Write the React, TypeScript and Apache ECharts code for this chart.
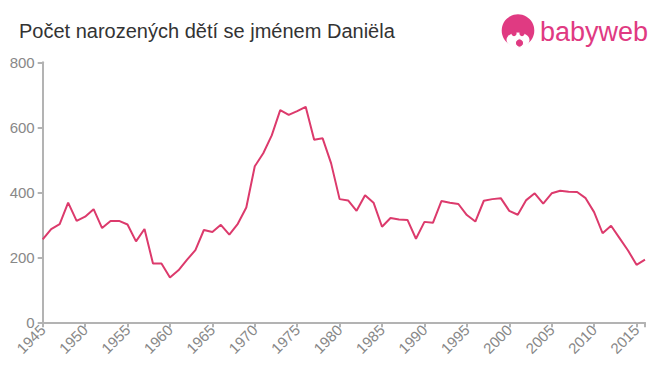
import React, { useEffect, useRef } from "react";
import * as echarts from "echarts";

const years: number[] = [
  1945, 1946, 1947, 1948, 1949, 1950, 1951, 1952, 1953, 1954, 1955, 1956, 1957, 1958, 1959,
  1960, 1961, 1962, 1963, 1964, 1965, 1966, 1967, 1968, 1969, 1970, 1971, 1972, 1973, 1974,
  1975, 1976, 1977, 1978, 1979, 1980, 1981, 1982, 1983, 1984, 1985, 1986, 1987, 1988, 1989,
  1990, 1991, 1992, 1993, 1994, 1995, 1996, 1997, 1998, 1999, 2000, 2001, 2002, 2003, 2004,
  2005, 2006, 2007, 2008, 2009, 2010, 2011, 2012, 2013, 2014, 2015, 2016,
];

const counts: number[] = [
  255, 287, 302, 368, 312, 325, 348, 290, 312, 312, 301, 249, 287, 181, 181,
  138, 160, 192, 222, 284, 278, 300, 270, 303, 353, 480, 520, 575, 653, 638,
  650, 663, 562, 566, 489, 379, 375, 343, 391, 368, 294, 321, 316, 315, 257,
  309, 306, 373, 368, 364, 330, 310, 374, 379, 382, 343, 331, 376, 397, 365,
  397, 405, 402, 401, 382, 339, 274, 297, 259, 221, 177, 193,
];

const yTicks: number[] = [0, 200, 400, 600, 800];

const title = "Počet narozených dětí se jménem Daniëla";

export default function App() {
  const ref = useRef<HTMLDivElement>(null);

  useEffect(() => {
    if (!ref.current) return;
    const chart = echarts.init(ref.current, undefined, { renderer: "svg" });
    const pink = "#e03a82";
    const font = "Liberation Sans, Arial, sans-serif";
    chart.setOption({
      animation: false,
      backgroundColor: "#ffffff",
      grid: { left: 42.7, right: 15, top: 62.3, bottom: 52.7, containLabel: false },
      xAxis: {
        type: "value",
        min: 1945,
        max: 2016,
        interval: 5,
        axisLine: { show: true, lineStyle: { color: "#b3b3b3", width: 2 } },
        axisTick: { show: true, length: 5, lineStyle: { color: "#b3b3b3", width: 2 } },
        axisLabel: {
          rotate: 45,
          color: "#888888",
          fontSize: 15,
          fontFamily: font,
          margin: 5,
          formatter: (v: number) => (v % 5 === 0 ? String(v) : ""),
        },
        splitLine: { show: false },
      },
      yAxis: {
        type: "value",
        min: yTicks[0],
        max: yTicks[yTicks.length - 1],
        interval: 200,
        axisLine: { show: true, lineStyle: { color: "#b3b3b3", width: 2 } },
        axisTick: { show: true, length: 5, lineStyle: { color: "#b3b3b3", width: 2 } },
        axisLabel: {
          color: "#888888",
          fontSize: 15,
          fontFamily: font,
          margin: 8,
        },
        splitLine: { show: false },
      },
      series: [
        {
          type: "line",
          data: years.map((y, i) => [y, counts[i]]),
          showSymbol: false,
          symbol: "none",
          lineStyle: { color: "#dc3a6c", width: 2 },
          z: 3,
        },
      ],
      graphic: [
        {
          type: "text",
          left: 19,
          top: 21,
          style: {
            text: title,
            fill: "#333333",
            fontSize: 20,
            fontFamily: font,
          },
        },
        {
          type: "group",
          children: [
            { type: "circle", shape: { cx: 518, cy: 30.5, r: 16.3 }, style: { fill: pink } },
            { type: "ellipse", shape: { cx: 518, cy: 40, rx: 11.5, ry: 7.5 }, style: { fill: "#ffffff" } },
            { type: "circle", shape: { cx: 514, cy: 33.5, r: 2.6 }, style: { fill: pink } },
            { type: "circle", shape: { cx: 522, cy: 33.5, r: 2.6 }, style: { fill: pink } },
            { type: "circle", shape: { cx: 519.5, cy: 43, r: 4.2 }, style: { fill: pink, stroke: "#ffffff", lineWidth: 1.2 } },
            {
              type: "text",
              x: 540,
              y: 18,
              style: {
                text: "babyweb",
                fill: pink,
                fontSize: 27,
                fontFamily: font,
              },
            },
          ],
        },
      ],
    });
    return () => chart.dispose();
  }, []);

  return <div ref={ref} style={{ width: 660, height: 375, position: "absolute", left: 0, top: 0 }} />;
}
